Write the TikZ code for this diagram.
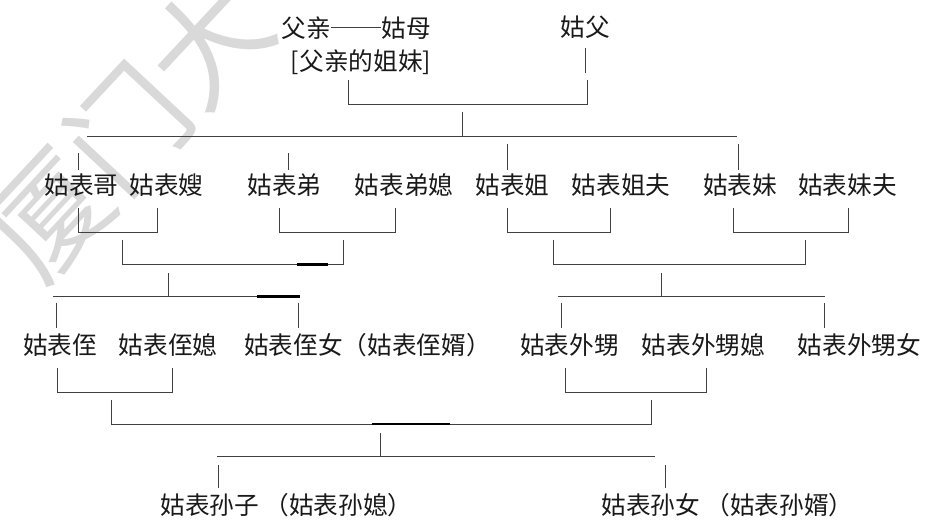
\documentclass[tikz,border=0pt]{standalone}
\usepackage{fontspec}
\newfontfamily\cjk{Noto Sans CJK SC}
\begin{document}
\begin{tikzpicture}[x=0.75pt,y=-0.75pt,
  lbl/.style={font=\cjk\fontsize{18.5}{20}\selectfont, inner sep=0pt, text=black!90},
  ln/.style={draw=black!75, line width=0.75pt},
  thk/.style={draw=black, line width=1.6pt},
  wm/.style={font=\cjk\fontsize{88}{90}\selectfont, text=black!15, inner sep=0pt}]
\useasboundingbox (0,0) rectangle (926,523);
% watermark
\node[wm, rotate=47] (wmark) at (128,128) {厦门大};
% generation 1
\node[lbl] (fu) at (306,28) {父亲};
\node[lbl] (gm) at (406,28) {姑母};
\node[lbl] (fz) at (361,62) {[父亲的姐妹]};
\node[lbl] (gf) at (585,27) {姑父};
\draw[ln] (fu.east) -- (gm.west);
\coordinate (gfa) at (585,48); \coordinate (gfb) at (585,73);
\draw[ln] (gfa) -- (gfb);
\coordinate (p1) at (348,80); \coordinate (p2) at (587,80);
\draw[ln] (p1) -- (348,105) -- (587,105) -- (p2);
\coordinate (c1a) at (462,112); \coordinate (c1b) at (462,137);
\draw[ln] (c1a) -- (c1b);
\coordinate (h1a) at (87,137); \coordinate (h1b) at (737,137);
\draw[ln] (h1a) -- (h1b);
\draw[ln] (78,153) -- (78,170);
\draw[ln] (288,153) -- (288,170);
\draw[ln] (507,144) -- (507,170);
\draw[ln] (738,144) -- (738,170);
% generation 2
\node[lbl] (gbg) at (81.5,185) {姑表哥};
\node[lbl] (gbs) at (166.5,185) {姑表嫂};
\node[lbl] (gbd) at (284.5,185) {姑表弟};
\node[lbl] (gbdx) at (404,185) {姑表弟媳};
\node[lbl] (gbj) at (512.5,185) {姑表姐};
\node[lbl] (gbjf) at (621,185) {姑表姐夫};
\node[lbl] (gbm) at (740,185) {姑表妹};
\node[lbl] (gbmf) at (847.5,185) {姑表妹夫};
\draw[ln] (78,208) -- (78,233) -- (157,233) -- (157,208);
\draw[ln] (279,208) -- (279,233) -- (395,233) -- (395,208);
\draw[ln] (507,208) -- (507,233) -- (610,233) -- (610,208);
\draw[ln] (733,208) -- (733,233) -- (848,233) -- (848,208);
\draw[ln] (122,240) -- (122,265) -- (343,265) -- (343,240);
\draw[thk] (297,264.5) -- (328,264.5);
\draw[ln] (553,240) -- (553,265) -- (805,265) -- (805,240);
\draw[ln] (168,273) -- (168,297);
\draw[ln] (661,273) -- (661,297);
\draw[ln] (53,297) -- (300,297);
\draw[thk] (257,296.5) -- (300,296.5);
\draw[ln] (558,297) -- (825,297);
\draw[ln] (56,303) -- (56,328);
\draw[ln] (298,303) -- (298,328);
\draw[ln] (561,303) -- (561,328);
\draw[ln] (824,303) -- (824,328);
% generation 3
\node[lbl] (gbz) at (60,345) {姑表侄};
\node[lbl] (gbzx) at (168,345) {姑表侄媳};
\node[lbl] (gbzn) at (367.5,345) {姑表侄女（姑表侄婿）};
\node[lbl] (gbws) at (569.5,345) {姑表外甥};
\node[lbl] (gbwsx) at (703.5,345) {姑表外甥媳};
\node[lbl] (gbwsn) at (859.5,345) {姑表外甥女};
\draw[ln] (57,368) -- (57,393) -- (172,393) -- (172,368);
\draw[ln] (565,368) -- (565,393) -- (706,393) -- (706,368);
\draw[ln] (111,400) -- (111,425) -- (651,425) -- (651,400);
\draw[thk] (372,424) -- (450,424);
\draw[ln] (380,433) -- (380,457);
\draw[ln] (217,457) -- (655,457);
\draw[ln] (218,465) -- (218,488);
\draw[ln] (665,465) -- (665,488);
% generation 4
\node[lbl] (gbsz) at (286.5,505) {姑表孙子\ （姑表孙媳）};
\node[lbl] (gbsn) at (727.5,505) {姑表孙女\ （姑表孙婿）};
\end{tikzpicture}
\end{document}
